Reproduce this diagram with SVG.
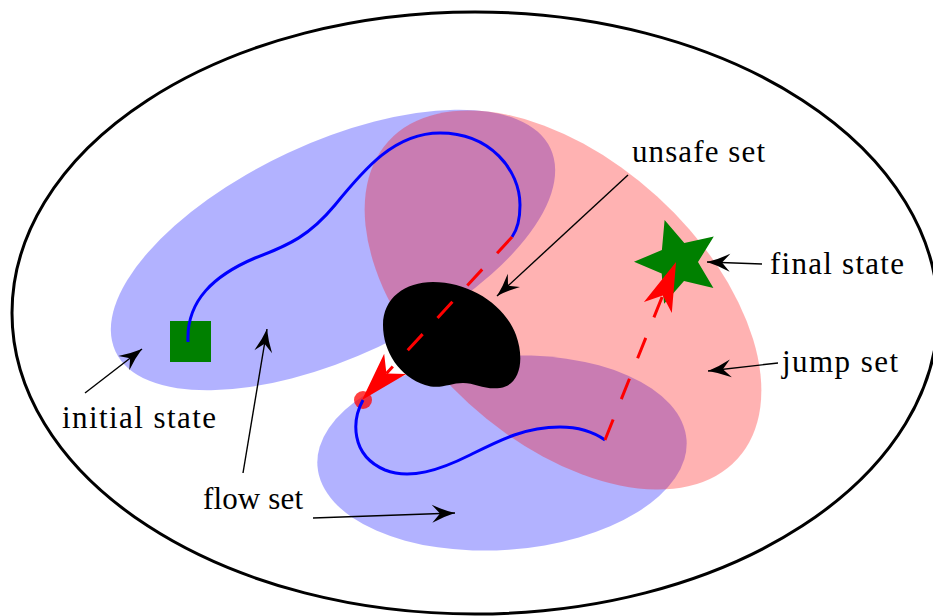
<svg xmlns="http://www.w3.org/2000/svg" width="933" height="616" viewBox="0 0 933 616">
<defs>
<style>
.lbl{font-family:"Liberation Serif","Times New Roman",serif;font-size:31px;fill:#000}
.ann{fill:none;stroke:#000;stroke-width:1.4}
.flow{fill:none;stroke:#0000ff;stroke-width:3}
.jump{fill:none;stroke:#ff0000;stroke-width:3;stroke-dasharray:22 22}
.bset{fill:#0000ff;fill-opacity:0.3}
.rset{fill:#ff0000;fill-opacity:0.3}
</style>
<marker id="blk" viewBox="-25 -10 26 20" markerWidth="26" markerHeight="20" refX="0" refY="0" orient="auto" markerUnits="userSpaceOnUse">
<path d="M0,0 Q-11,-3 -23,-9 L-15,0 L-23,9 Q-11,3 0,0 Z" fill="#000"/>
</marker>
<marker id="red" viewBox="-14 -16 52 32" markerWidth="52" markerHeight="32" refX="0" refY="0" orient="auto" markerUnits="userSpaceOnUse">
<path d="M36,0 L-13,-15 L0,0 L-13,15 Z" fill="#ff0000"/>
</marker>
</defs>
<rect width="933" height="616" fill="#fff"/>
<g id="state-space"><ellipse cx="475" cy="313" rx="463" ry="301" fill="none" stroke="#000" stroke-width="3"/></g>
<g id="flow-set-1"><ellipse class="bset" transform="translate(333 250) rotate(-25)" rx="240" ry="107"/></g>
<g id="flow-set-2"><ellipse class="bset" transform="translate(502 453) rotate(-4)" rx="185" ry="97"/></g>
<g id="jump-set"><ellipse class="rset" transform="translate(563 300) rotate(42.3)" rx="236" ry="140"/></g>
<g id="unsafe-set"><path d="M433 282 C470 282,505 305,516 335 C525 360,520 385,500 388 C485 390,475 383,463 383 C450 383,440 390,425 385 C400 377,383 352,383 325 C383 298,405 282,433 282 Z" fill="#000"/></g>
<g id="initial-state"><rect x="170" y="321" width="41" height="41" fill="#008000"/></g>
<g id="final-state"><polygon points="664.6,220.1 684.3,243 713.8,236.4 698,262.1 713.4,288.1 684,281.1 664.1,303.8 661.7,273.6 634,261.7 661.9,250.1" fill="#008000"/></g>
<g id="connectors">
<path class="flow" d="M188 342 C186 300,215 275,255 258 C290 245,310 235,335 205 C365 168,395 133,440 133 C490 133,520 170,520 205 C520 220,517 230,512 237"/>
<path class="jump" d="M512 237 L386.4 373.5" marker-end="url(#red)"/>
<circle cx="363" cy="400" r="9" fill="#ff0000" fill-opacity="0.75"/>
<path class="flow" d="M363 400 C352 420,350 455,385 470 C410 480,440 470,470 455 C500 440,525 427,560 427 C580 427,595 433,605 440"/>
<path class="jump" d="M605 440 L662.7 295.4" marker-end="url(#red)"/>
<path class="ann" d="M628 175 L497 296" marker-end="url(#blk)"/>
<path class="ann" d="M762 264 L707 262" marker-end="url(#blk)"/>
<path class="ann" d="M778 363 L708 371" marker-end="url(#blk)"/>
<path class="ann" d="M85 393 L142 349" marker-end="url(#blk)"/>
<path class="ann" d="M243 473 L267 329" marker-end="url(#blk)"/>
<path class="ann" d="M313 518 L455 513" marker-end="url(#blk)"/>
</g>
<g id="labels">
<text class="lbl" x="632" y="162" textLength="133">unsafe set</text>
<text class="lbl" x="770" y="274" textLength="134">final state</text>
<text class="lbl" x="782" y="372" textLength="116">jump set</text>
<text class="lbl" x="62" y="428" textLength="154">initial state</text>
<text class="lbl" x="203" y="509" textLength="100">flow set</text>
</g>
</svg>
